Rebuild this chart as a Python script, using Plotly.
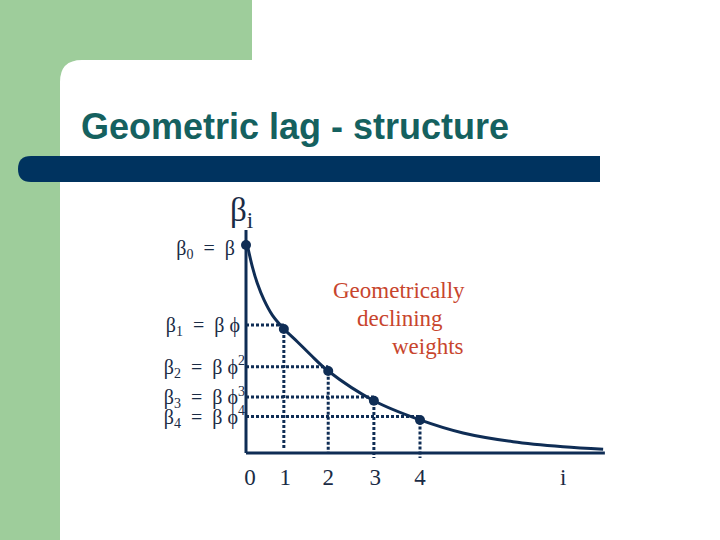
import plotly.graph_objects as go

lags    = [0, 0.87, 1.89, 2.94, 4.0]
weights = [1.0, 0.596, 0.394, 0.251, 0.159]

# curva dibujada a mano en la diapositiva
curve_x = [0.03, 0.145, 0.26, 0.414, 0.605, 0.874, 1.18, 1.49, 1.89,
           2.94, 4.0, 4.99, 6.14, 7.29, 8.21]
curve_y = [1.0, 0.896, 0.816, 0.736, 0.663, 0.596, 0.535, 0.471, 0.394,
           0.251, 0.159, 0.096, 0.054, 0.030, 0.018]

# líneas de puntos (alturas y extremos inferiores)
guide_y      = [0.615, 0.415, 0.269, 0.175]
guide_bottom = [0.024, 0.0, -0.024, -0.024]

x_ticks  = [0.09, 0.90, 1.89, 2.97, 4.0, 7.29]
x_labels = ['0', '1', '2', '3', '4', 'i']

S = '\u00a0'
PHI = '\u03d5'
y_ticks  = [0.985] + guide_y
y_labels = [f'β<sub>0</sub>{S}{S}={S}{S}β{S}{S}',
            f'β<sub>1</sub>{S}{S}={S}{S}β{S}{PHI}{S}',
            f'β<sub>2</sub>{S}{S}={S}{S}β{S}{PHI}<sup>2</sup>',
            f'β<sub>3</sub>{S}{S}={S}{S}β{S}{PHI}<sup>3</sup>',
            f'β<sub>4</sub>{S}{S}={S}{S}β{S}{PHI}<sup>4</sup>']

# ── Escala de la página (px) ───────────────────────────────────────────────────
W, H = 720, 540
X0, XU = 246, 43.5     # píxel del retardo 0, píxeles por unidad
Y0, YU = 453, 208      # píxel del peso 0, píxeles por unidad

NAVY  = '#0f2d55'
TEXT  = '#1a2b45'
GREEN = '#9ecd9b'
SERIF = 'Liberation Serif, Times New Roman, serif'


def px(x):
    return x / W


def py(y):
    return 1 - y / H


fig = go.Figure()

# líneas de puntos
hx, hy, vx, vy = [], [], [], []
for lx, gy, gb in zip(lags[1:], guide_y, guide_bottom):
    hx += [0, lx, None]
    hy += [gy, gy, None]
    vx += [lx, lx, None]
    vy += [gy, gb, None]
dot = dict(color=NAVY, width=3, dash='3px,2px')
fig.add_trace(go.Scatter(x=hx, y=hy, mode='lines', line=dot))
fig.add_trace(go.Scatter(x=vx, y=vy, mode='lines', line=dot))

# ejes dibujados
fig.add_trace(go.Scatter(x=[0, 0, None, 0, 8.25], y=[1.072, 0, None, 0, 0],
                         mode='lines', line=dict(color=NAVY, width=3)))

# curva y puntos
fig.add_trace(go.Scatter(x=curve_x, y=curve_y, mode='lines',
                         line=dict(color=NAVY, width=3, shape='spline', smoothing=1)))
fig.add_trace(go.Scatter(x=lags, y=weights, mode='markers',
                         marker=dict(color=NAVY, size=10)))

# ── Decoración de la diapositiva ──────────────────────────────────────────────
shapes = [
    dict(type='rect', xref='paper', yref='paper', x0=0, x1=px(252), y0=py(60), y1=1,
         fillcolor=GREEN, line_width=0, layer='below'),
    dict(type='rect', xref='paper', yref='paper', x0=0, x1=px(60), y0=0, y1=1,
         fillcolor=GREEN, line_width=0, layer='below'),
    dict(type='path', xref='paper', yref='paper', layer='below',
         path=(f'M {px(60)},{py(60)} L {px(82)},{py(60)} '
               f'Q {px(60)},{py(60)} {px(60)},{py(82)} Z'),
         fillcolor=GREEN, line_width=0),
    dict(type='path', xref='paper', yref='paper', layer='below',
         path=(f'M {px(31)},{py(156)} L {px(600)},{py(156)} L {px(600)},{py(182)} '
               f'L {px(31)},{py(182)} Q {px(18)},{py(182)} {px(18)},{py(169)} '
               f'Q {px(18)},{py(156)} {px(31)},{py(156)} Z'),
         fillcolor='#00335f', line_width=0),
]

annotations = [
    dict(text='<b>Geometric lag - structure</b>', xref='paper', yref='paper',
         x=px(79), y=py(126), xanchor='left', yanchor='middle', showarrow=False,
         font=dict(family='Liberation Sans, Arial, sans-serif', size=36, color='#15615f')),
    dict(text='β<sub>i</sub>', xref='paper', yref='paper', x=px(228), y=py(212),
         xanchor='left', yanchor='middle', showarrow=False,
         font=dict(family=SERIF, size=33, color=TEXT)),
    dict(text='Geometrically', xref='paper', yref='paper', x=px(399), y=py(290),
         showarrow=False, font=dict(family=SERIF, size=23, color='#c8452d')),
    dict(text='declining', xref='paper', yref='paper', x=px(400), y=py(318),
         showarrow=False, font=dict(family=SERIF, size=23, color='#c8452d')),
    dict(text='weights', xref='paper', yref='paper', x=px(428), y=py(346),
         showarrow=False, font=dict(family=SERIF, size=23, color='#c8452d')),
]

fig.update_layout(
    width=W, height=H, margin=dict(l=0, r=0, t=0, b=0),
    paper_bgcolor='white', plot_bgcolor='white',
    showlegend=False, hovermode=False,
    shapes=shapes, annotations=annotations,
    xaxis=dict(range=[-X0 / XU, (W - X0) / XU], anchor='free', position=py(Y0),
               showgrid=False, zeroline=False, showline=False, ticks='',
               tickvals=x_ticks, ticktext=x_labels, ticklabelstandoff=8,
               tickfont=dict(family=SERIF, size=23, color=TEXT)),
    yaxis=dict(range=[(Y0 - H) / YU, Y0 / YU], anchor='free', position=px(X0),
               showgrid=False, zeroline=False, showline=False, ticks='',
               tickvals=y_ticks, ticktext=y_labels, ticklabelstandoff=1,
               tickfont=dict(family=SERIF, size=20, color=TEXT)),
)

# la página sin el margen por defecto del navegador
fig.write_html('out.html', config={'displayModeBar': False},
               post_script="document.body.style.margin = '0';")
